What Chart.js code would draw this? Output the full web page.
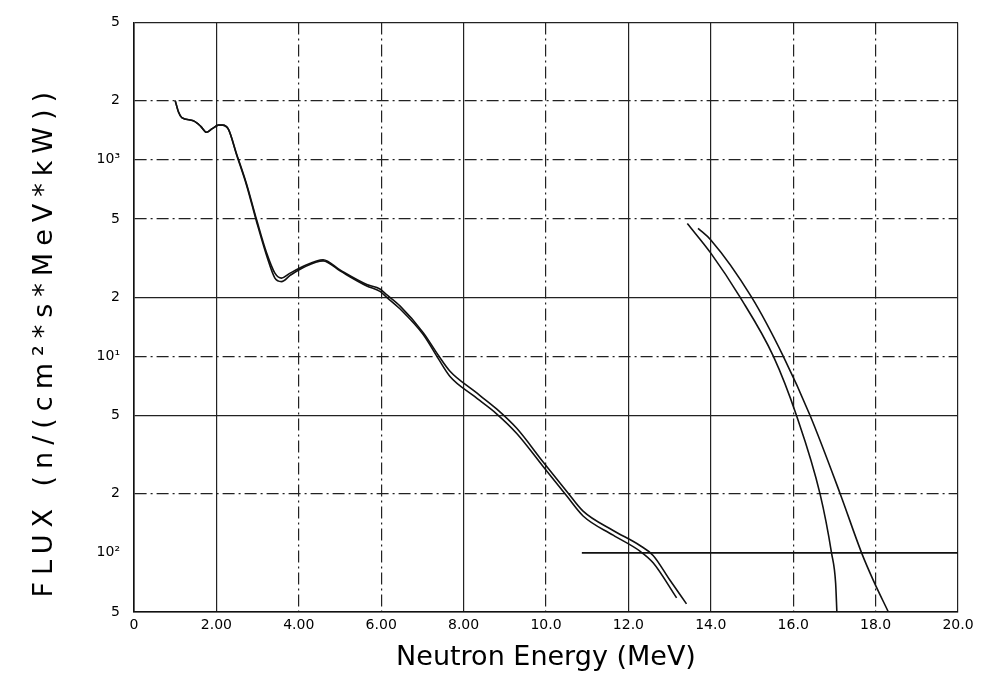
<!DOCTYPE html>
<html>
<head>
<meta charset="utf-8">
<title>Neutron flux spectrum</title>
<script src="https://cdn.jsdelivr.net/npm/chart.js@4/dist/chart.umd.min.js"></script>
<style>
  body { margin: 0; background: #fff; }
  canvas { display: block; }
</style>
</head>
<body>
<canvas id="fluxChart" width="987" height="687"></canvas>
<script>
// spectrum, two close traces
const energyUpper = [1.00, 1.08, 1.16, 1.44, 1.62, 1.76, 1.90, 2.05, 2.15, 2.29, 2.49, 2.73, 2.98, 3.22, 3.42, 3.58, 3.79, 4.11, 4.59, 5.00, 5.65, 5.97, 6.13, 6.46, 7.02, 7.39, 7.67, 8.24, 8.80, 9.29, 9.93, 10.50, 10.90, 11.63, 12.28, 12.60, 13.01, 13.41];
const fluxUpper = [2000, 1750, 1640, 1580, 1480, 1380, 1440, 1500, 1500, 1430, 1070, 755, 492, 335, 265, 250, 265, 287, 310, 275, 232, 220, 206, 180, 132, 101, 84, 67, 54, 43, 29, 20.6, 16.3, 13.0, 10.9, 9.7, 7.25, 5.5];

const energyLower = [1.00, 1.08, 1.16, 1.44, 1.62, 1.76, 1.90, 2.05, 2.15, 2.29, 2.49, 2.73, 2.98, 3.22, 3.42, 3.58, 3.79, 4.11, 4.59, 5.00, 5.65, 5.97, 6.13, 6.46, 7.02, 7.39, 7.67, 8.24, 8.80, 9.29, 9.93, 10.50, 10.90, 11.63, 12.28, 12.60, 13.17];
const fluxLower = [2000, 1750, 1640, 1580, 1480, 1380, 1440, 1500, 1500, 1430, 1060, 745, 480, 325, 250, 240, 258, 283, 306, 272, 228, 214, 200, 174, 129, 97, 79, 63, 51, 40.5, 27.5, 19.5, 15.4, 12.3, 10.2, 8.9, 5.9];

// high energy tails
const energyTailA = [13.43, 14.00, 14.71, 15.52, 16.08, 16.65, 16.93, 17.03, 17.06];
const fluxTailA = [474, 335, 200, 100, 50, 20, 10, 7.0, 5.0];

const energyTailB = [13.69, 14.00, 14.99, 15.76, 16.41, 17.14, 17.66, 17.95, 18.31];
const fluxTailB = [448, 391, 200, 100, 50, 20, 10, 7.2, 5.0];

// short level line at 10
const energyLevel = [10.87, 20];
const fluxLevel = [10, 10];

const xTickLabels = ["0", "2.00", "4.00", "6.00", "8.00", "10.0", "12.0", "14.0", "16.0", "18.0", "20.0"];
const yTickValues = [5, 10, 20, 50, 100, 200, 500, 1000, 2000, 5000];
const yTickLabels = ["5", "10\u00b2", "2", "5", "10\u00b9", "2", "5", "10\u00b3", "2", "5"];

const xDashed = [4, 6, 10, 16, 18];
const yDashed = [20, 100, 500, 1000, 2000];

function points(xs, ys) {
    return xs.map((x, i) => ({ x: x, y: ys[i] }));
}

function traceSet(label, xs, ys) {
    return {
        label: label,
        data: points(xs, ys),
        borderColor: "#111",
        borderWidth: 1.6,
        pointRadius: 0,
        cubicInterpolationMode: "monotone",
        fill: false,
    };
}

const gridDash = [12, 4, 2, 4];

const ctx = document.getElementById("fluxChart").getContext("2d");

new Chart(ctx, {
    type: "line",
    data: {
        datasets: [
            traceSet("Flux (a)", energyUpper, fluxUpper),
            traceSet("Flux (b)", energyLower, fluxLower),
            traceSet("Tail (a)", energyTailA, fluxTailA),
            traceSet("Tail (b)", energyTailB, fluxTailB),
            traceSet("Level", energyLevel, fluxLevel),
        ],
    },
    options: {
        responsive: false,
        animation: false,
        layout: { padding: { top: 17, right: 29, left: 0, bottom: 0 } },
        plugins: {
            legend: { display: false },
            tooltip: { enabled: false },
        },
        scales: {
            x: {
                type: "linear",
                min: 0,
                max: 20,
                ticks: {
                    stepSize: 2,
                    padding: 5,
                    color: "#000",
                    font: { family: "DejaVu Sans", size: 14 },
                    callback: (value, index) => xTickLabels[index],
                },
                grid: {
                    color: "#222",
                    lineWidth: 1.2,
                    drawTicks: false,
                },
                border: {
                    color: "#111",
                    width: 1.6,
                    dash: (c) => (c.tick && xDashed.includes(c.tick.value) ? gridDash : []),
                },
                title: {
                    display: true,
                    text: "Neutron Energy (MeV)",
                    color: "#000",
                    font: { family: "DejaVu Sans", size: 27 },
                    padding: { top: 0, bottom: 13 },
                },
                afterFit: (scale) => { scale.height = 75; },
            },
            y: {
                type: "logarithmic",
                min: 5,
                max: 5000,
                afterBuildTicks: (scale) => {
                    scale.ticks = yTickValues.map((v) => ({ value: v }));
                },
                ticks: {
                    padding: 14,
                    color: "#000",
                    font: { family: "DejaVu Sans", size: 14 },
                    callback: (value, index) => yTickLabels[index],
                },
                grid: {
                    color: (c) => (c.tick && c.tick.value === 10 ? "rgba(0,0,0,0)" : "#222"),
                    lineWidth: 1.2,
                    drawTicks: false,
                },
                border: {
                    color: "#111",
                    width: 1.6,
                    dash: (c) => (c.tick && yDashed.includes(c.tick.value) ? gridDash : []),
                },
                title: {
                    display: true,
                    text: "FLUX (n/(cm\u00b2*s*MeV*kW))",
                    color: "#000",
                    font: { family: "DejaVu Sans", size: 27 },
                    padding: { top: 29, bottom: 0 },
                },
                afterFit: (scale) => { scale.width = 134; },
                afterUpdate: (scale) => {
                    // spread the axis title out like the plotter lettering
                    if (scale._spaced) return;
                    scale._spaced = true;
                    const drawTitle = scale.drawTitle;
                    scale.drawTitle = function () {
                        this.ctx.save();
                        this.ctx.letterSpacing = "7px";
                        this.ctx.translate(0, 24);
                        drawTitle.call(this);
                        this.ctx.restore();
                    };
                },
            },
        },
    },
});
</script>
</body>
</html>
